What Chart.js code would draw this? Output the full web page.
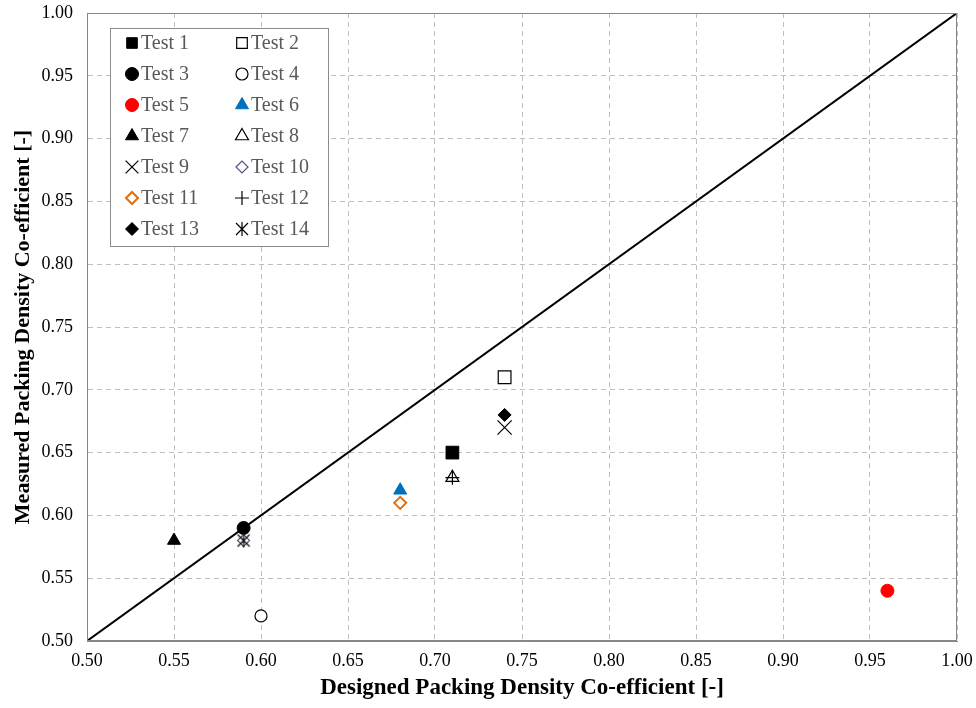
<!DOCTYPE html>
<html>
<head>
<meta charset="utf-8">
<script src="https://cdn.jsdelivr.net/npm/chart.js@4/dist/chart.umd.min.js"></script>
<style>
  html, body { margin: 0; padding: 0; background: #fff; }
  #wrap { width: 976px; height: 708px; }
</style>
</head>
<body>
<div id="wrap"><canvas id="plots"></canvas></div>
<script>
// data
var testNames = ["Test 1", "Test 2", "Test 3", "Test 4", "Test 5", "Test 6", "Test 7",
                 "Test 8", "Test 9", "Test 10", "Test 11", "Test 12", "Test 13", "Test 14"];
var designed = [0.71, 0.74, 0.59, 0.60, 0.96, 0.68, 0.55, 0.71, 0.74, 0.59, 0.68, 0.71, 0.74, 0.59];
var measured = [0.65, 0.71, 0.59, 0.52, 0.54, 0.62, 0.58, 0.63, 0.67, 0.58, 0.61, 0.63, 0.68, 0.58];
var lineX = [0.50, 1.00]; // 1:1 line
var lineY = [0.50, 1.00];
var axisTicks = [0.50, 0.55, 0.60, 0.65, 0.70, 0.75, 0.80, 0.85, 0.90, 0.95, 1.00];

// asterisk marker (x with a vertical stroke)
var star = document.createElement("canvas");
star.width = 16; star.height = 16;
var sc = star.getContext("2d");
sc.strokeStyle = "#000"; sc.lineWidth = 1.2;
sc.beginPath();
sc.moveTo(2, 2); sc.lineTo(14, 14);
sc.moveTo(14, 2); sc.lineTo(2, 14);
sc.moveTo(8, 1); sc.lineTo(8, 15);
sc.stroke();

// marker style per test
var markers = [
    { style: "rect", r: 9, fill: "#000", line: "#000", w: 1 },
    { style: "rect", r: 9, fill: "#fff", line: "#000", w: 1.2 },
    { style: "circle", r: 6.5, fill: "#000", line: "#000", w: 1 },
    { style: "circle", r: 6, fill: "#fff", line: "#000", w: 1.2 },
    { style: "circle", r: 6.5, fill: "#ff0000", line: "#ff0000", w: 1 },
    { style: "triangle", r: 7.5, fill: "#0070c0", line: "#0070c0", w: 1 },
    { style: "triangle", r: 7.5, fill: "#000", line: "#000", w: 1 },
    { style: "triangle", r: 7.5, fill: "#fff", line: "#000", w: 1.2 },
    { style: "crossRot", r: 10, fill: "#000", line: "#000", w: 1.2 },
    { style: "rectRot", r: 6, fill: "#fff", line: "#5a4e82", w: 1.2 },
    { style: "rectRot", r: 6, fill: "#fff", line: "#e46c0a", w: 2 },
    { style: "cross", r: 7, fill: "#000", line: "#000", w: 1.2 },
    { style: "rectRot", r: 6.5, fill: "#000", line: "#000", w: 1 },
    { style: star, r: 8, fill: "#000", line: "#000", w: 1 }
];

var datasets = testNames.map(function (name, i) {
    var m = markers[i];
    return {
        type: "scatter",
        label: name,
        data: [{ x: designed[i], y: measured[i] }],
        pointStyle: m.style,
        pointRadius: m.r,
        pointHoverRadius: m.r,
        backgroundColor: m.fill,
        borderColor: m.line,
        pointBorderWidth: m.w,
        order: 14 - i
    };
});
datasets.push({
    type: "line",
    label: "1:1",
    data: lineX.map(function (x, i) { return { x: x, y: lineY[i] }; }),
    borderColor: "#000",
    borderWidth: 2,
    pointRadius: 0,
    fill: false,
    order: 50
});

// frame around the plot area
var frame = {
    id: "frame",
    afterDatasetsDraw: function (chart) {
        var a = chart.chartArea, c = chart.ctx;
        c.save();
        c.strokeStyle = "#878787";
        c.lineWidth = 1;
        c.strokeRect(a.left + 0.5, a.top + 0.5, a.right - a.left - 1, a.bottom - a.top - 1);
        c.restore();
    }
};

// two column legend box inside the plot
var legendBox = {
    id: "legendBox",
    afterDraw: function (chart) {
        var c = chart.ctx;
        var bx = 110, by = 28, bw = 218, bh = 218;
        c.save();
        c.fillStyle = "#fff";
        c.fillRect(bx, by, bw, bh);
        c.strokeStyle = "#8c8c8c";
        c.lineWidth = 1;
        c.strokeRect(bx + 0.5, by + 0.5, bw, bh);
        c.font = "20px 'Liberation Serif'";
        c.textBaseline = "middle";
        chart.data.datasets.forEach(function (ds, i) {
            if (ds.type !== "scatter") return;
            var col = i % 2, row = Math.floor(i / 2);
            var mx = 132 + col * 110, my = 43 + row * 31;
            c.fillStyle = ds.backgroundColor;
            c.strokeStyle = ds.borderColor;
            c.lineWidth = ds.pointBorderWidth;
            var r = Math.min(ds.pointRadius, 7.5);
            if (ds.pointStyle === "crossRot") r = 9;
            if (Chart.helpers && Chart.helpers.drawPoint) {
                Chart.helpers.drawPoint(c, { pointStyle: ds.pointStyle, radius: r, rotation: 0, borderWidth: ds.pointBorderWidth }, mx, my);
            }
            c.fillStyle = "#595959";
            c.fillText(ds.label, mx + 9, my + 1);
        });
        c.restore();
    }
};

var tickFont = { family: "'Liberation Serif'", size: 18 };

new Chart(document.getElementById("plots"), {
    data: { datasets: datasets },
    options: {
        responsive: true,
        maintainAspectRatio: false,
        animation: false,
        layout: { padding: { left: 6, top: 13, right: 19, bottom: 2 } },
        plugins: {
            legend: { display: false },
            tooltip: { enabled: false }
        },
        scales: {
            x: {
                type: "linear",
                min: 0.5, max: 1.0,
                afterBuildTicks: function (s) { s.ticks = axisTicks.map(function (v) { return { value: v }; }); },
                ticks: {
                    padding: 9,
                    color: "#000",
                    font: tickFont,
                    callback: function (v) { return Number(v).toFixed(2); }
                },
                grid: { color: "#bfbfbf", lineWidth: 1, drawTicks: false },
                border: { color: "#878787", width: 1, dash: [5, 4] },
                title: { display: true, text: "Designed Packing Density Co-efficient [-]", color: "#000",
                         font: { family: "'Liberation Serif'", size: 23, weight: "bold" }, padding: { top: 2 } },
                afterFit: function (s) { s.height = 65; s.paddingLeft = 0; s.paddingRight = 0; }
            },
            y: {
                type: "linear",
                min: 0.5, max: 1.0,
                afterBuildTicks: function (s) { s.ticks = axisTicks.map(function (v) { return { value: v }; }); },
                ticks: {
                    padding: 14,
                    color: "#000",
                    font: tickFont,
                    callback: function (v) { return Number(v).toFixed(2); }
                },
                grid: { color: "#bfbfbf", lineWidth: 1, drawTicks: false },
                border: { color: "#878787", width: 1, dash: [5, 4] },
                title: { display: true, text: "Measured Packing Density Co-efficient [-]", color: "#000",
                         font: { family: "'Liberation Serif'", size: 22, weight: "bold" }, padding: { bottom: 2 } },
                afterFit: function (s) { s.width = 81; s.paddingTop = 0; s.paddingBottom = 0; }
            }
        }
    },
    plugins: [frame, legendBox]
});
</script>
</body>
</html>
